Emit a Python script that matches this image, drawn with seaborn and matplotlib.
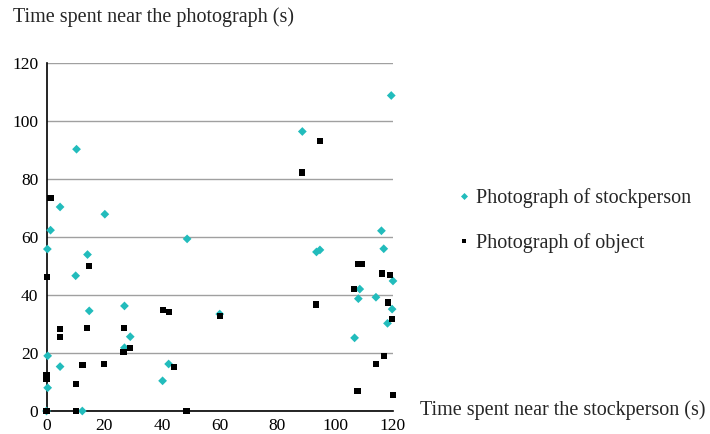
import seaborn as sns
import matplotlib.pyplot as plt
import pandas as pd

# values
stock_x = [10.4, 4.7, 20.2, 1.4, 0.3, 14.2, 10.1, 14.8, 27.0, 29.0, 27.0, 0.4, 4.7, 0.4, 12.4, 0.0,
           48.7, 60.0, 42.3, 40.2, 119.4, 88.6, 116.0, 116.8, 93.5, 94.7, 120.0, 108.5, 108.0,
           114.1, 119.7, 118.1, 106.7]
stock_y = [90.2, 70.3, 67.8, 62.3, 55.8, 53.9, 46.6, 34.5, 36.2, 25.6, 21.8, 19.0, 15.3, 8.0, 0.0, 0.0,
           59.3, 33.4, 16.2, 10.4, 108.7, 96.3, 62.1, 55.9, 54.8, 55.5, 44.8, 42.0, 38.7,
           39.2, 35.1, 30.2, 25.2]
object_x = [1.4, 14.8, 0.3, 4.8, 4.8, 14.1, 26.9, 26.7, 28.8, 12.5, 20.0, 0.0, 0.0, 10.3, 10.3, 0.0,
            40.4, 42.5, 60.0, 44.2, 48.5, 94.6, 88.5, 107.8, 109.2, 116.2, 119.0, 106.5, 93.4,
            118.2, 119.6, 116.8, 114.1, 107.7, 120.0]
object_y = [73.3, 49.9, 46.1, 28.2, 25.4, 28.5, 28.7, 20.2, 21.8, 15.9, 16.2, 12.4, 10.9, 9.3, 0.0, 0.0,
            34.8, 34.0, 32.8, 15.1, 0.0, 92.9, 82.2, 50.7, 50.7, 47.4, 46.8, 42.0, 36.7,
            37.4, 31.6, 19.0, 16.1, 6.9, 5.4]
labels = ["Photograph of stockperson", "Photograph of object"]
ticks = [0, 20, 40, 60, 80, 100, 120]

df = pd.concat([
    pd.DataFrame({"x": stock_x, "y": stock_y, "group": labels[0]}),
    pd.DataFrame({"x": object_x, "y": object_y, "group": labels[1]}),
])

sns.set_style("white")
plt.rcParams['font.family'] = ['Liberation Serif', 'DejaVu Serif']

fig = plt.figure(figsize=(7.1, 4.34), dpi=100)
ax = fig.add_axes([0.0655, 0.053, 0.488, 0.8025])

sns.scatterplot(data=df, x="x", y="y", hue="group", style="group",
                palette={labels[0]: "#22bcbc", labels[1]: "black"},
                markers={labels[0]: "D", labels[1]: "s"},
                s=20, linewidth=0, clip_on=False, zorder=3, ax=ax)

ax.set_xlim(0, 120)
ax.set_ylim(0, 120)
ax.set_xticks(ticks)
ax.set_yticks(ticks)
ax.yaxis.grid(True, color="#a0a0a0", linewidth=1)
ax.xaxis.grid(False)
ax.set_axisbelow(True)
for s in ["top", "right"]:
    ax.spines[s].set_visible(False)
for s in ["left", "bottom"]:
    ax.spines[s].set_color("black")
    ax.spines[s].set_linewidth(1.2)
ax.tick_params(axis="both", direction="inout", length=6, width=1, colors="black",
               labelsize=12.5, pad=3)
ax.tick_params(axis="x", pad=2)
ax.set_xlabel("")
ax.set_ylabel("")

fig.text(0.018, 0.96, "Time spent near the photograph (s)", fontsize=14.5, va="center", ha="left")
fig.text(0.592, 0.055, "Time spent near the stockperson (s)", fontsize=14.5, va="center", ha="left")

h, l = ax.get_legend_handles_labels()
ax.legend(h, l, loc="center left", bbox_to_anchor=(0.617, 0.492), bbox_transform=fig.transFigure,
          frameon=False, fontsize=14.5, labelspacing=1.25, handlelength=0.8,
          handletextpad=0.2, markerscale=0.8)

plt.savefig("out.png", dpi=100)
